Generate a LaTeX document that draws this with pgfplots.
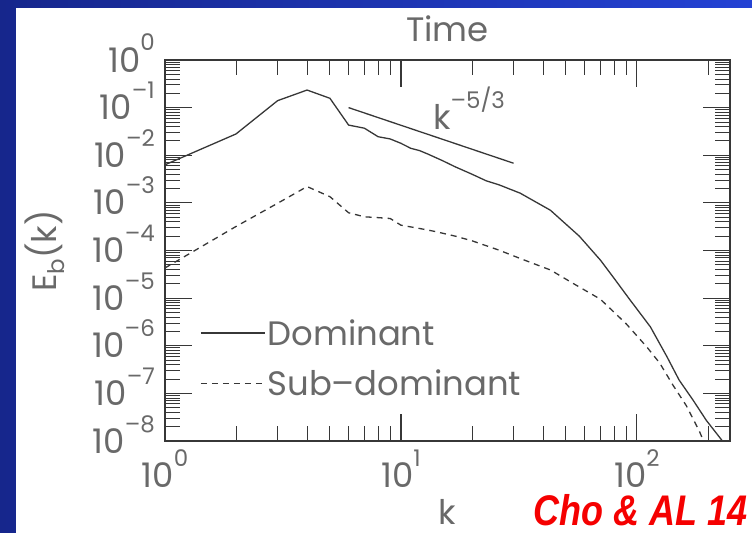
\documentclass[border=0pt]{standalone}
\usepackage{pgfplots}
\pgfplotsset{compat=1.18}
\usepackage{fontspec}
\usepackage{graphicx}
\setmainfont{Poppins}
\newfontfamily\arialfont{Liberation Sans}
\definecolor{bgL}{RGB}{22,38,140}
\definecolor{bgR}{RGB}{36,66,212}
\definecolor{txt}{RGB}{105,105,105}
\definecolor{ln}{RGB}{55,55,55}
\definecolor{redc}{RGB}{245,0,0}
\newcommand\bigf{\fontsize{34}{34}\selectfont}
\newcommand\sups[1]{\raisebox{0.62em}{\fontsize{23}{23}\selectfont #1}}
\begin{document}
\begin{tikzpicture}
\shade[left color=bgL, right color=bgR] (0bp,0bp) rectangle (752bp,533bp);
\fill[white] (16bp,0bp) rectangle (752bp,525bp);
\begin{axis}[
  at={(165bp,92bp)}, anchor=south west,
  width=565bp, height=381bp, scale only axis,
  xmode=log, ymode=log,
  xmin=1, xmax=248, ymin=1e-8, ymax=1,
  axis line style={draw=ln, line width=1.1pt},
  major tick style={draw=ln, line width=1.1pt},
  minor tick style={draw=ln, line width=0.9pt},
  tick align=inside,
  major tick length=27bp, minor tick length=15bp,
  xtick={1,10,100},
  xticklabels={10\sups{0},10\sups{1},10\sups{2}},
  minor xtick={2,3,4,5,6,7,8,9,20,30,40,50,60,70,80,90,200},
  ytick={1e-8,1e-7,1e-6,1e-5,1e-4,1e-3,1e-2,1e-1,1},
  yticklabels={10\sups{–8},10\sups{–7},10\sups{–6},10\sups{–5},10\sups{–4},10\sups{–3},10\sups{–2},10\sups{–1},10\sups{0}},
  minor ytick={2e-8,3e-8,4e-8,5e-8,6e-8,7e-8,8e-8,9e-8,
    2e-7,3e-7,4e-7,5e-7,6e-7,7e-7,8e-7,9e-7,
    2e-6,3e-6,4e-6,5e-6,6e-6,7e-6,8e-6,9e-6,
    2e-5,3e-5,4e-5,5e-5,6e-5,7e-5,8e-5,9e-5,
    2e-4,3e-4,4e-4,5e-4,6e-4,7e-4,8e-4,9e-4,
    2e-3,3e-3,4e-3,5e-3,6e-3,7e-3,8e-3,9e-3,
    2e-2,3e-2,4e-2,5e-2,6e-2,7e-2,8e-2,9e-2,
    2e-1,3e-1,4e-1,5e-1,6e-1,7e-1,8e-1,9e-1},
  xticklabel style={font=\bigf, text=txt, anchor=base, inner sep=0pt, yshift=-46bp},
  yticklabel style={font=\bigf, text=txt, anchor=base east, inner sep=0pt, xshift=-10bp, yshift=-12bp},
  legend style={draw=none, fill=none, at={(rel axis cs:0.062,0.2175)}, anchor=west,
    font=\bigf, text=txt, row sep=19bp, inner sep=0pt,
    nodes={inner sep=2bp}, cells={anchor=west}},
  legend image code/.code={\draw[#1] (0bp,0bp) -- (64bp,0bp);},
  clip=true,
]
\addplot[ln, line width=1.3pt] coordinates {
 (1,6.3e-3) (2,2.8e-2) (3,1.4e-1) (4,2.34e-1) (5,1.57e-1) (6,4.3e-2) (7,3.7e-2)
 (8,2.45e-2) (9,2.2e-2) (10,1.78e-2) (11,1.4e-2) (12,1.25e-2) (13,1.06e-2)
 (15,7.7e-3) (17,5.7e-3) (20,4.0e-3) (23,2.9e-3) (26,2.4e-3) (32,1.6e-3)
 (43,7.0e-4) (57,2.0e-4) (70,6.3e-5) (81,2.4e-5) (93,9.5e-6) (114,2.5e-6)
 (134,5.9e-7) (151,1.9e-7) (173,7.2e-8) (197,2.7e-8) (229,1.04e-8) (245,6.5e-9)};
\addlegendentry{Dominant}
\addplot[ln, line width=1.3pt, dash pattern=on 6bp off 5bp] coordinates {
 (1,4.3e-5) (2,3.2e-4) (3,9.8e-4) (4,2.2e-3) (5,1.35e-3) (6,6.2e-4) (7,5.1e-4)
 (8,4.9e-4) (9,4.7e-4) (10,3.4e-4) (12,2.9e-4) (14,2.5e-4) (17,2.0e-4)
 (20,1.6e-4) (26,1.02e-4) (32,6.8e-5) (43,3.9e-5) (54,2.0e-5) (70,9.5e-6)
 (90,2.9e-6) (110,9.5e-7) (125,4.3e-7) (142,1.5e-7) (162,5.5e-8) (184,1.6e-8) (195,8e-9)};
\addlegendentry{Sub–dominant}
\addplot[ln, line width=1.3pt, forget plot] coordinates {(6,0.1) (30,0.0068)};
\end{axis}
\node[anchor=base west, font=\bigf, text=txt, inner sep=0pt] at (433bp,403bp) {k\sups{–5/3}};
\node[anchor=base, font=\bigf, text=txt, inner sep=0pt] at (447.5bp,491bp) {Time};
\node[anchor=base, font=\bigf, text=txt, inner sep=0pt] at (447bp,9bp) {k};
\node[anchor=base, rotate=90, font=\bigf, text=txt, inner sep=0pt] at (56bp,282bp) {E\raisebox{-0.25em}{\fontsize{23}{23}\selectfont b}(k)};
\node[anchor=base east, inner sep=0pt, text=redc] at (748bp,8bp) {\scalebox{0.84}[1]{\arialfont\bfseries\itshape\fontsize{43}{43}\selectfont Cho \& AL 14}};
\pgfresetboundingbox
\path (0bp,0bp) rectangle (752bp,533bp);
\end{tikzpicture}
\end{document}
